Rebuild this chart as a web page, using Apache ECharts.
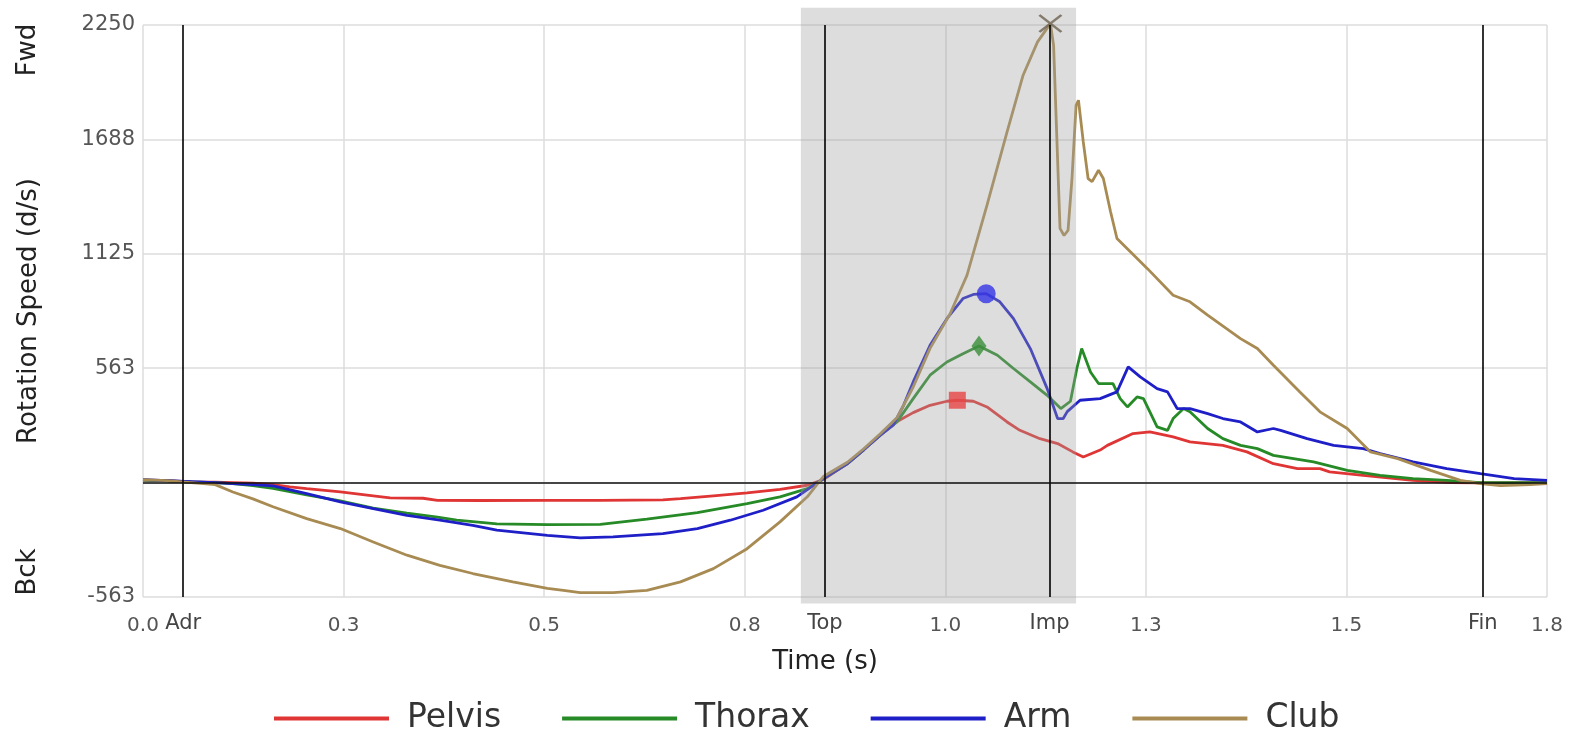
<!DOCTYPE html>
<html>
<head>
<meta charset="utf-8">
<title>Rotation Speed</title>
<script src="https://cdn.jsdelivr.net/npm/echarts@6/dist/echarts.min.js"></script>
<style>
  html, body { margin: 0; padding: 0; background: #fff; }
  #chart { width: 1569px; height: 736px; }
</style>
</head>
<body>
<div id="chart"></div>
<script>
// time (s) / rotation speed (d/s)
const pelvisT = [0, 0.03, 0.06, 0.09, 0.112, 0.137, 0.162, 0.183, 0.204, 0.246, 0.287, 0.308, 0.349, 0.367, 0.42, 0.504, 0.57, 0.648, 0.67, 0.711, 0.753, 0.794, 0.828, 0.848, 0.878, 0.898, 0.919, 0.94, 0.96, 0.981, 1.002, 1.015, 1.035, 1.052, 1.077, 1.093, 1.118, 1.14, 1.159, 1.172, 1.193, 1.202, 1.234, 1.255, 1.284, 1.305, 1.346, 1.376, 1.409, 1.439, 1.467, 1.479, 1.521, 1.583, 1.63, 1.7, 1.75];
const pelvisV = [12, 10, 4, 2, 0, -3, -10, -21, -30, -46, -65, -75, -77, -87, -88, -87, -87, -85, -79, -65, -51, -33, -13, 15, 93, 160, 233, 300, 344, 380, 400, 405, 400, 372, 298, 257, 216, 192, 151, 126, 160, 183, 241, 249, 225, 200, 183, 151, 93, 69, 69, 53, 36, 11, 0, -2, 0];

const thoraxT = [0, 0.03, 0.06, 0.09, 0.112, 0.137, 0.162, 0.204, 0.246, 0.287, 0.329, 0.367, 0.391, 0.441, 0.504, 0.57, 0.628, 0.691, 0.753, 0.794, 0.828, 0.848, 0.878, 0.898, 0.919, 0.94, 0.96, 0.981, 1.002, 1.022, 1.042, 1.065, 1.085, 1.106, 1.127, 1.144, 1.156, 1.164, 1.17, 1.181, 1.191, 1.209, 1.218, 1.227, 1.239, 1.247, 1.255, 1.264, 1.277, 1.284, 1.297, 1.305, 1.327, 1.346, 1.368, 1.389, 1.409, 1.459, 1.501, 1.542, 1.583, 1.625, 1.667, 1.75];
const thoraxV = [12, 8, 3, 0, -5, -15, -28, -60, -90, -125, -150, -170, -185, -203, -207, -205, -180, -148, -103, -70, -30, 18, 93, 160, 233, 300, 413, 528, 593, 634, 672, 626, 561, 495, 429, 364, 400, 561, 659, 544, 487, 487, 413, 372, 421, 413, 348, 274, 257, 315, 364, 348, 266, 216, 183, 167, 134, 102, 60, 36, 20, 11, 0, 0];

const armT = [0, 0.03, 0.06, 0.09, 0.112, 0.137, 0.162, 0.204, 0.246, 0.287, 0.329, 0.37, 0.411, 0.441, 0.504, 0.545, 0.586, 0.648, 0.691, 0.732, 0.773, 0.815, 0.848, 0.878, 0.898, 0.919, 0.935, 0.948, 0.96, 0.981, 1.002, 1.022, 1.035, 1.051, 1.068, 1.085, 1.106, 1.127, 1.14, 1.147, 1.152, 1.168, 1.193, 1.214, 1.228, 1.243, 1.264, 1.277, 1.289, 1.305, 1.327, 1.346, 1.368, 1.389, 1.409, 1.418, 1.451, 1.484, 1.521, 1.542, 1.583, 1.625, 1.667, 1.709, 1.75];
const armV = [15, 10, 5, 0, -5, -10, -16, -54, -95, -128, -161, -185, -210, -234, -259, -272, -267, -251, -226, -185, -136, -70, 20, 93, 160, 233, 282, 380, 495, 675, 806, 905, 925, 929, 889, 806, 659, 462, 315, 315, 349, 405, 413, 446, 569, 520, 462, 446, 364, 364, 339, 315, 298, 249, 266, 257, 216, 183, 167, 143, 102, 69, 44, 20, 11];

const clubT = [0, 0.03, 0.06, 0.09, 0.112, 0.137, 0.162, 0.204, 0.246, 0.287, 0.329, 0.37, 0.411, 0.461, 0.504, 0.524, 0.545, 0.586, 0.628, 0.67, 0.711, 0.753, 0.794, 0.828, 0.848, 0.878, 0.898, 0.919, 0.94, 0.96, 0.981, 1.006, 1.027, 1.052, 1.077, 1.097, 1.115, 1.131, 1.135, 1.139, 1.143, 1.148, 1.153, 1.158, 1.163, 1.166, 1.172, 1.178, 1.183, 1.191, 1.197, 1.206, 1.214, 1.231, 1.252, 1.284, 1.305, 1.327, 1.368, 1.389, 1.409, 1.442, 1.467, 1.501, 1.53, 1.564, 1.605, 1.642, 1.667, 1.692, 1.729, 1.75];
const clubV = [15, 10, 0, -10, -46, -80, -119, -177, -226, -292, -357, -407, -447, -488, -520, -530, -541, -541, -530, -488, -423, -325, -193, -70, 30, 100, 165, 240, 320, 470, 660, 830, 1019, 1364, 1724, 2003, 2167, 2257, 2150, 1700, 1250, 1215, 1240, 1500, 1855, 1880, 1675, 1495, 1480, 1536, 1495, 1332, 1200, 1134, 1052, 921, 889, 823, 708, 659, 577, 446, 348, 266, 151, 118, 60, 11, -5, -15, -10, -5];

// peak markers [time, value]
const pelvisPeak = [1.015, 405];
const thoraxPeak = [1.042, 672];
const armPeak = [1.051, 929];
const clubPeak = [1.131, 2257];

// swing events
const eventNames = ["Adr", "Top", "Imp", "Fin"];
const eventTimes = [0.053, 0.85, 1.13, 1.667];

// downswing shading (time from/to, value top/bottom)
const shadeRange = [0.82, 1.163];
const shadeTop = 2335;
const shadeBottom = -595;

const xMin = 0, xMax = 1.75, xStep = 0.25;
const yMin = -562.5, yMax = 2250, yStep = 562.5;

const FONT = "DejaVu Sans";
const colors = {
  Pelvis: "#e03535",
  Thorax: "#268a26",
  Arm: "#1f1fc8",
  Club: "#a88b52",
};

function pairs(ts, vs) {
  return ts.map((t, i) => [t, vs[i]]);
}

const chart = echarts.init(document.getElementById("chart"));

function lineSeries(name, ts, vs) {
  return {
    name: name,
    type: "line",
    data: pairs(ts, vs),
    showSymbol: false,
    symbol: "none",
    z: 2,
    lineStyle: { color: colors[name], width: 2.8 },
    itemStyle: { color: colors[name] },
  };
}

const option = {
  animation: false,
  backgroundColor: "#fff",
  textStyle: { fontFamily: FONT },
  grid: { left: 143, right: 22, top: 25, bottom: 139 },
  legend: {
    data: ["Pelvis", "Thorax", "Arm", "Club"],
    left: 269,
    top: 697,
    icon: "rect",
    itemWidth: 115,
    itemHeight: 4,
    itemGap: 61,
    textStyle: { fontFamily: FONT, fontSize: 33, color: "#333", padding: [0, 0, 0, 13] },
  },
  xAxis: {
    type: "value",
    min: xMin,
    max: xMax,
    interval: xStep,
    name: "Time (s)",
    nameLocation: "middle",
    nameGap: 52,
    nameTextStyle: { fontFamily: FONT, fontSize: 26, color: "#222", padding: [0, 40, 0, 0] },
    axisLine: { show: false },
    axisTick: { show: false },
    axisLabel: {
      fontFamily: FONT,
      fontSize: 20,
      color: "#555",
      margin: 19,
      formatter: (v) => v.toFixed(1),
    },
    splitLine: { show: true, lineStyle: { color: "#dcdcdc", width: 1.5 } },
  },
  yAxis: {
    type: "value",
    min: yMin,
    max: yMax,
    interval: yStep,
    name: "Rotation Speed (d/s)",
    nameLocation: "middle",
    nameGap: 101,
    nameTextStyle: { fontFamily: FONT, fontSize: 26, color: "#222" },
    axisLine: { show: false },
    axisTick: { show: false },
    axisLabel: {
      fontFamily: FONT,
      fontSize: 21,
      color: "#555",
      margin: 8,
      formatter: (v) => (v === 0 ? "" : (v < 0 ? "-" : "") + Math.round(Math.abs(v))),
    },
    splitLine: { show: true, lineStyle: { color: "#dcdcdc", width: 1.5 } },
  },
  graphic: [
    {
      type: "text",
      x: 28,
      y: 50,
      rotation: Math.PI / 2,
      style: { text: "Fwd", fontFamily: FONT, fontSize: 26, fill: "#222", align: "center", verticalAlign: "middle" },
    },
    {
      type: "text",
      x: 28,
      y: 572,
      rotation: Math.PI / 2,
      style: { text: "Bck", fontFamily: FONT, fontSize: 26, fill: "#222", align: "center", verticalAlign: "middle" },
    },
  ],
  series: [
    {
      // event lines + zero line, below the shading
      name: "events",
      type: "line",
      data: [],
      z: 1,
      markLine: {
        silent: true,
        symbol: "none",
        animation: false,
        lineStyle: { color: "#000", width: 1.6, type: "solid" },
        label: {
          show: true,
          position: "start",
          distance: 16,
          fontFamily: FONT,
          fontSize: 21,
          color: "#444",
          formatter: (p) => p.name,
        },
        emphasis: { disabled: true },
        data: eventTimes
          .map((t, i) => ({ name: eventNames[i], xAxis: t }))
          .concat([{ name: "", yAxis: 0, label: { show: false }, lineStyle: { color: "#111", width: 1.6 } }]),
      },
    },
    lineSeries("Pelvis", pelvisT, pelvisV),
    lineSeries("Thorax", thoraxT, thoraxV),
    lineSeries("Arm", armT, armV),
    lineSeries("Club", clubT, clubV),
    {
      name: "shade",
      type: "custom",
      clip: false,
      silent: true,
      z: 3,
      data: [shadeRange],
      encode: { x: [0, 1] },
      renderItem: function (params, api) {
        const p0 = api.coord([api.value(0), shadeTop]);
        const p1 = api.coord([api.value(1), shadeBottom]);
        return {
          type: "rect",
          shape: { x: p0[0], y: p0[1], width: p1[0] - p0[0], height: p1[1] - p0[1] },
          style: { fill: "rgba(160,160,160,0.36)" },
        };
      },
    },
    {
      name: "peaks",
      type: "scatter",
      z: 4,
      clip: false,
      silent: true,
      data: [
        { value: pelvisPeak, symbol: "rect", symbolSize: 17, itemStyle: { color: "#e84545" } },
        { value: thoraxPeak, symbol: "diamond", symbolSize: [15, 21], itemStyle: { color: "#3a8e3a" } },
        { value: armPeak, symbol: "circle", symbolSize: 19, itemStyle: { color: "#3535e6" } },
        {
          value: clubPeak,
          symbol: "path://M0,0 L10,8 M10,0 L0,8",
          symbolSize: [22, 17],
          itemStyle: { color: "rgba(0,0,0,0)", borderColor: "#6e6350", borderWidth: 2.5 },
        },
      ],
    },
  ],
};

chart.setOption(option);
</script>
</body>
</html>
